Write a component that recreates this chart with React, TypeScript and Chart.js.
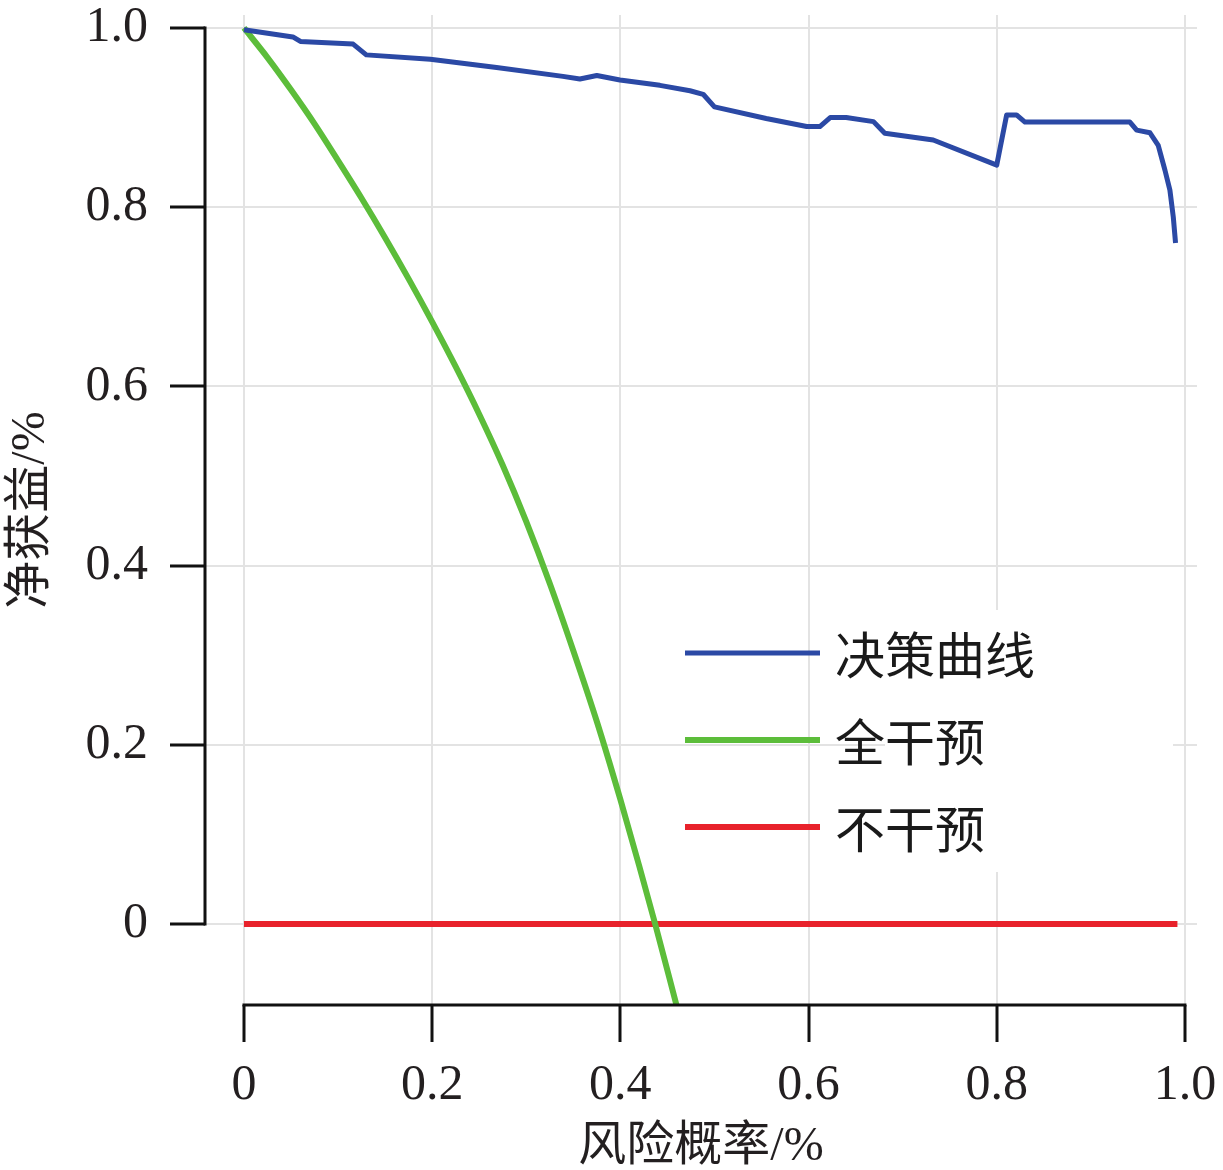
import React, { useEffect, useRef } from 'react';
import { Chart, registerables } from 'chart.js';

Chart.register(...registerables);

// ---- data ----
const seriesNames = ['决策曲线', '全干预', '不干预'];
const seriesColors = ['#2b49a5', '#5cbd3a', '#e8222b'];
const seriesWidths = [5, 6, 6];

const modelX = [0, 0.052, 0.06, 0.116, 0.13, 0.198, 0.2685, 0.339, 0.357, 0.375, 0.3996, 0.442, 0.474, 0.488, 0.5, 0.555, 0.598, 0.612, 0.623, 0.64, 0.669, 0.681, 0.7325, 0.8, 0.8105, 0.821, 0.83, 0.9415, 0.9487, 0.9628, 0.9716, 0.9787, 0.984, 0.9876, 0.99];
const modelY = [0.998, 0.99, 0.985, 0.982, 0.97, 0.965, 0.956, 0.946, 0.943, 0.947, 0.942, 0.936, 0.93, 0.926, 0.912, 0.899, 0.89, 0.89, 0.9, 0.9, 0.8955, 0.8825, 0.875, 0.847, 0.903, 0.903, 0.895, 0.895, 0.886, 0.883, 0.869, 0.8415, 0.819, 0.789, 0.76];

const allX = [0, 0.025, 0.05, 0.075, 0.1, 0.125, 0.15, 0.175, 0.2, 0.225, 0.25, 0.275, 0.3, 0.325, 0.35, 0.375, 0.4, 0.42, 0.437, 0.46];
const allY = [1.0, 0.967, 0.931, 0.893, 0.852, 0.810, 0.766, 0.720, 0.672, 0.622, 0.569, 0.512, 0.449, 0.380, 0.305, 0.226, 0.139, 0.065, 0.0, -0.092];

const noneX = [0, 0.992];
const noneY = [0, 0];

const tickValues = [0, 0.2, 0.4, 0.6, 0.8, 1.0];
const xTitle = '风险概率/%';
const yTitle = '净获益/%';

const X_MIN = -0.0414;
const X_MAX = 1.0128;
const Y_MIN = -0.0904;
const Y_MAX = 1.0145;

const toPoints = (xs: number[], ys: number[]) => xs.map((x, i) => ({ x, y: ys[i] }));

const serifFont = '"Liberation Serif", "Noto Sans CJK SC", serif';
const cjkFont = '"Noto Sans CJK SC", "Liberation Serif", sans-serif';

const axisPlugin = {
  id: 'rangeAxes',
  afterDatasetsDraw(chart: any) {
    const { ctx, chartArea, scales } = chart;
    const xs = scales.x;
    const ys = scales.y;
    ctx.save();
    ctx.strokeStyle = '#111';
    ctx.lineWidth = 3;
    ctx.lineCap = 'square';
    ctx.beginPath();
    ctx.moveTo(chartArea.left, ys.getPixelForValue(tickValues[0]));
    ctx.lineTo(chartArea.left, ys.getPixelForValue(tickValues[tickValues.length - 1]));
    ctx.stroke();
    ctx.beginPath();
    ctx.moveTo(xs.getPixelForValue(tickValues[0]), chartArea.bottom);
    ctx.lineTo(xs.getPixelForValue(tickValues[tickValues.length - 1]), chartArea.bottom);
    ctx.stroke();
    ctx.restore();
  },
};

const legendPlugin = {
  id: 'insideLegend',
  afterDatasetsDraw(chart: any) {
    const { ctx, chartArea } = chart;
    const left = chartArea.left + 480;
    const top = chartArea.top + 638;
    ctx.save();
    ctx.fillStyle = '#ffffff';
    ctx.fillRect(chartArea.left + 680, chartArea.top + 595, 288, 262);
    chart.data.datasets.forEach((ds: any, i: number) => {
      const y = top + i * 87;
      ctx.strokeStyle = ds.borderColor;
      ctx.lineWidth = ds.borderWidth;
      ctx.lineCap = 'butt';
      ctx.beginPath();
      ctx.moveTo(left, y);
      ctx.lineTo(left + 135, y);
      ctx.stroke();
      ctx.fillStyle = '#1a1a1a';
      ctx.font = `50px ${cjkFont}`;
      ctx.textAlign = 'left';
      ctx.textBaseline = 'middle';
      ctx.fillText(ds.label, left + 150, y + 2);
    });
    ctx.restore();
  },
};

export default function App() {
  const canvasRef = useRef<HTMLCanvasElement | null>(null);

  useEffect(() => {
    if (!canvasRef.current) return;
    const fixTicks = (scale: any) => {
      scale.ticks = tickValues.map((v) => ({ value: v }));
    };
    const tickLabel = (v: any) => (Number(v) === 0 ? '0' : Number(v).toFixed(1));

    const chart = new Chart(canvasRef.current, {
      type: 'line',
      data: {
        datasets: [
          { label: seriesNames[0], data: toPoints(modelX, modelY), cubicInterpolationMode: 'default', tension: 0 },
          { label: seriesNames[1], data: toPoints(allX, allY), cubicInterpolationMode: 'monotone', tension: 0.4 },
          { label: seriesNames[2], data: toPoints(noneX, noneY), cubicInterpolationMode: 'default', tension: 0 },
        ].map((d, i) => ({
          ...d,
          borderColor: seriesColors[i],
          backgroundColor: seriesColors[i],
          borderWidth: seriesWidths[i],
          pointRadius: 0,
          fill: false,
          borderJoinStyle: 'round' as const,
        })),
      },
      options: {
        animation: false,
        responsive: false,
        maintainAspectRatio: false,
        layout: { padding: { top: 15, right: 26, left: 0, bottom: 0 } },
        plugins: { legend: { display: false }, tooltip: { enabled: false } },
        scales: {
          x: {
            type: 'linear',
            min: X_MIN,
            max: X_MAX,
            afterBuildTicks: fixTicks,
            afterFit: (s: any) => {
              s.height = 165;
              s.paddingLeft = 0;
              s.paddingRight = 0;
              s.paddingTop = 0;
              s.paddingBottom = 0;
            },
            border: { display: false },
            grid: {
              color: '#e3e3e3',
              lineWidth: 2,
              tickColor: '#111',
              tickWidth: 3,
              tickLength: 37,
            },
            ticks: {
              callback: tickLabel,
              font: { family: serifFont, size: 50 },
              color: '#231f20',
              padding: 14,
              maxRotation: 0,
              autoSkip: false,
            },
            title: {
              display: true,
              text: xTitle,
              font: { family: serifFont, size: 48 },
              color: '#231f20',
              padding: { top: 0, bottom: -6 },
            },
          },
          y: {
            type: 'linear',
            min: Y_MIN,
            max: Y_MAX,
            afterBuildTicks: fixTicks,
            afterFit: (s: any) => {
              s.width = 205;
              s.paddingLeft = 0;
              s.paddingRight = 0;
              s.paddingTop = 0;
              s.paddingBottom = 0;
            },
            border: { display: false },
            grid: {
              color: '#e3e3e3',
              lineWidth: 2,
              tickColor: '#111',
              tickWidth: 3,
              tickLength: 35,
            },
            ticks: {
              callback: tickLabel,
              font: { family: serifFont, size: 50 },
              color: '#231f20',
              padding: 22,
              autoSkip: false,
            },
            title: {
              display: true,
              text: yTitle,
              font: { family: serifFont, size: 48 },
              color: '#231f20',
              padding: { top: 3, bottom: 0 },
            },
          },
        },
      },
      plugins: [axisPlugin, legendPlugin],
    } as any);

    return () => chart.destroy();
  }, []);

  return (
    <div style={{ position: 'fixed', left: 0, top: 0, width: 1223, height: 1170, background: '#fff' }}>
      <canvas ref={canvasRef} width={1223} height={1170} style={{ width: 1223, height: 1170, display: 'block' }} />
    </div>
  );
}
